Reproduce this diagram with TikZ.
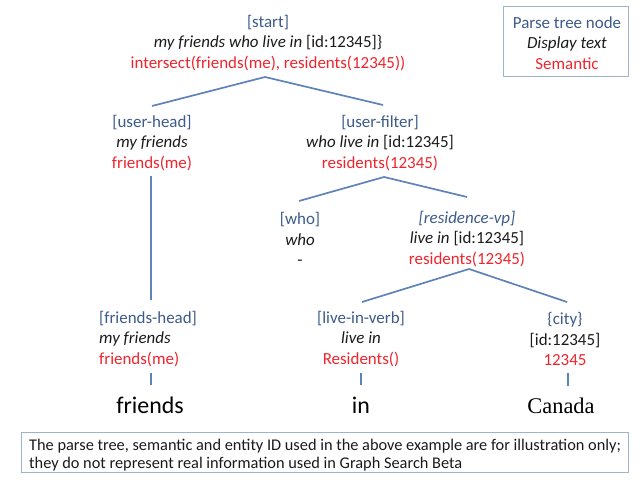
\documentclass[tikz,border=0pt]{standalone}
\usepackage{fontspec}
\setmainfont{Carlito}
\newfontfamily\timesfont{Liberation Serif}
\definecolor{tblue}{HTML}{3C5A8A}
\definecolor{tred}{HTML}{F0242C}
\definecolor{tline}{HTML}{5F82B8}
\definecolor{tbox}{HTML}{9FB3CC}
\definecolor{tdark}{HTML}{1A1A1A}
\newcommand{\nt}[1]{\textcolor{tblue}{#1}}
\newcommand{\dt}[1]{\textit{#1}}
\newcommand{\sm}[1]{\textcolor{tred}{#1}}
\tikzset{
  tn/.style={inner sep=0pt, align=center, text=tdark, font=\fontsize{17}{20.7}\selectfont},
  tnl/.style={inner sep=0pt, align=left, text=tdark, font=\fontsize{17}{20.7}\selectfont, anchor=west},
  edge/.style={draw=tline, line width=1.7pt},
  word/.style={inner sep=0pt, anchor=base, text=black, font=\fontsize{24}{28}\selectfont},
  boxed/.style={draw=tbox, line width=1pt}
}
\begin{document}
\begin{tikzpicture}[x=1bp,y=-1bp]
\useasboundingbox (0,0) rectangle (640,480);
% tree nodes
\node[tn] (start) at (268,43) {\nt{[start]}\\\dt{my friends who live in} [id:12345]\}\\\sm{intersect(friends(me), residents(12345))}};
\node[tn] (uhead) at (152,143) {\nt{[user-head]}\\\dt{my friends}\\\sm{friends(me)}};
\node[tn] (ufilter) at (380,143) {\nt{[user-filter]}\\\dt{who live in} [id:12345]\\\sm{residents(12345)}};
\node[tn] (who) at (300,239) {\nt{[who]}\\\dt{who}\\-};
\node[tn] (resvp) at (467,239) {\nt{\textit{[residence-vp]}}\\\dt{live in} [id:12345]\\\sm{residents(12345)}};
\node[tnl] (fhead) at (99,339) {\nt{[friends-head]}\\\dt{my friends}\\\sm{friends(me)}};
\node[tn] (liv) at (361,339) {\nt{[live-in-verb]}\\\dt{live in}\\\sm{Residents()}};
\node[tn] (city) at (565,339) {\nt{\{city\}}\\{[id:12345]}\\\sm{12345}};
% words
\node[word] (wfriends) at (150,413) {friends};
\node[word] (win) at (361,413) {in};
\node[word, font=\timesfont\fontsize{22.5}{26}\selectfont] (wcanada) at (561,413) {Canada};
% edge coordinates
\coordinate (a1) at (265,77);
\coordinate (l1) at (152,106);
\coordinate (r1) at (383,105);
\coordinate (a2) at (384,177);
\coordinate (l2) at (299,201);
\coordinate (r2) at (467,197);
\coordinate (a3) at (469,269);
\coordinate (l3) at (362,302);
\coordinate (r3) at (567,302);
\coordinate (v1) at (151,176);
\coordinate (v2) at (151,300);
\coordinate (t1a) at (151,373); \coordinate (t1b) at (151,385);
\coordinate (t2a) at (361,373); \coordinate (t2b) at (361,385);
\coordinate (t3a) at (568,373); \coordinate (t3b) at (568,386);
\draw[edge] (l1) -- (a1) -- (r1);
\draw[edge] (l2) -- (a2) -- (r2);
\draw[edge] (l3) -- (a3) -- (r3);
\draw[edge] (v1) -- (v2);
\draw[edge, line width=1.3pt] (t1a) -- (t1b);
\draw[edge, line width=1.3pt] (t2a) -- (t2b);
\draw[edge, line width=1.3pt] (t3a) -- (t3b);
% legend
\node[boxed, minimum width=125bp, minimum height=70bp, inner sep=0pt] (legend) at (565.5,42) {};
\node[tn] (legtext) at (567,43) {\nt{Parse tree node}\\\dt{Display text}\\\sm{Semantic}};
% note
\node[boxed, minimum width=606bp, minimum height=40bp, inner sep=0pt] (note) at (325,452) {};
\node[inner sep=0pt, anchor=west, align=left, text=tdark, font=\fontsize{16.4}{17.5}\selectfont] (notetext) at (29,455) {The parse tree, semantic and entity ID used in the above example are for illustration only;\\they do not represent real information used in Graph Search Beta};
\end{tikzpicture}
\end{document}
